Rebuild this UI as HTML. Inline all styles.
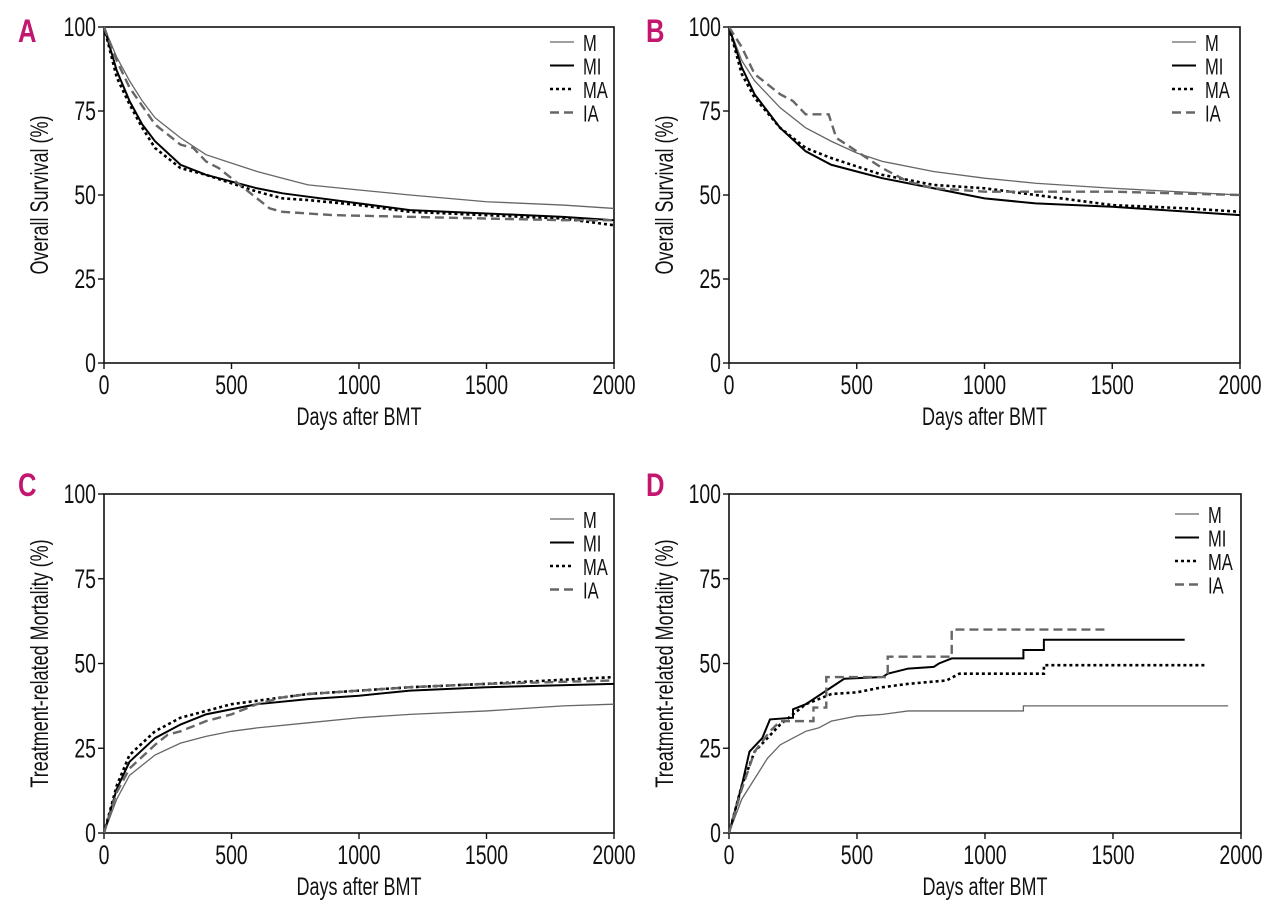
<!DOCTYPE html>
<html><head><meta charset="utf-8"><style>
html,body{margin:0;padding:0;background:#fff;}
svg{display:block;font-family:"Liberation Sans",sans-serif;}
</style></head><body>
<svg id="fig" width="1280" height="922" viewBox="0 0 1280 922" xmlns="http://www.w3.org/2000/svg"></svg>
<script>
const xTicks=[0,500,1000,1500,2000];
const yTicks=[0,25,50,75,100];
const seriesNames=["M","MI","MA","IA"];
// Panel A – overall survival
const aM=[[0,100],[50,91],[100,84],[150,78],[200,73],[300,67],[400,62],[500,59.5],[600,57],[700,55],[800,53],[1000,51.5],[1200,50],[1500,48],[1800,47],[2000,46]];
const aMI=[[0,100],[50,87],[100,78],[150,71],[200,66],[300,59],[400,56],[500,54],[600,52],[700,50.5],[800,49.5],[1000,47.5],[1200,45.5],[1500,44.5],[1800,43.5],[2000,42.5]];
const aMA=[[0,100],[50,85],[100,77],[150,70],[200,64],[300,58],[400,56],[500,53.5],[600,51],[700,49],[800,48.5],[1000,47],[1200,45],[1500,44],[1800,43],[2000,41]];
const aIA=[[0,100],[50,90],[100,82],[200,71],[300,65],[350,64],[400,60],[450,58],[500,55],[550,52],[600,49],[650,46],[700,45],[900,44],[1500,43],[1800,42.5],[2000,42.5]];
// Panel B – overall survival
const bM=[[0,100],[50,90],[100,84],[200,76],[300,70],[400,66],[500,62.5],[600,60],[800,57],[1000,55],[1200,53.5],[1500,52],[2000,50]];
const bMI=[[0,100],[50,88],[100,80],[150,75],[200,70],[300,63],[400,59],[500,57],[600,55],[800,52],[1000,49],[1200,47.5],[1500,46.5],[1800,45],[2000,44]];
const bMA=[[0,100],[50,86],[100,79],[200,70],[300,64],[400,61],[500,58.5],[600,56],[800,53],[1000,52],[1200,50],[1500,47],[1800,46],[2000,45]];
const bIA=[[0,100],[50,94],[100,86],[200,80],[250,78],[300,74],[390,74],[420,67],[500,63],[600,58],[700,54],[800,52],[1000,51],[1500,51],[2000,50]];
// Panel C – TRM
const cM=[[0,0],[50,10],[100,17],[200,23],[300,26.5],[400,28.5],[500,30],[600,31],[800,32.5],[1000,34],[1200,35],[1500,36],[1800,37.5],[2000,38]];
const cMI=[[0,0],[50,13],[100,21],[200,28],[300,32],[400,35],[500,36.5],[600,38],[800,39.5],[1000,40.5],[1200,42],[1500,43],[2000,44]];
const cMA=[[0,0],[50,14],[100,23],[200,30],[300,34],[400,36],[500,38],[600,39],[800,41],[1000,42],[1200,43],[1500,44],[2000,46]];
const cIA=[[0,0],[50,12],[100,19],[200,26],[250,29],[300,30],[400,33],[500,35],[600,38],[700,40],[800,41],[1000,42],[1200,43],[1500,44],[2000,45]];
// Panel D – TRM
const dM=[[0,0],[50,10],[100,16],[150,22],[200,26],[250,28],[300,30],[350,31],[400,33],[500,34.5],[600,35],[700,36],[1150,36],[1150,37.5],[1950,37.5]];
const dMI=[[0,0],[50,14],[80,24],[130,28],[160,33.5],[250,34],[250,36.5],[300,38],[380,42],[450,45.5],[600,46],[620,47],[700,48.5],[800,49],[820,50],[870,51.5],[1150,51.5],[1150,54],[1230,54],[1230,57],[1780,57]];
const dMA=[[0,0],[50,14],[100,24],[200,32],[300,38],[400,41],[500,41.5],[600,43],[700,44],[850,45],[900,47],[1230,47],[1230,49.5],[1860,49.5]];
const dIA=[[0,0],[50,13],[100,24],[160,30],[200,33],[330,33],[330,37],[380,37],[380,46],[620,46],[620,52],[870,52],[870,60],[1470,60]];

const NS="http://www.w3.org/2000/svg";
const svg=document.getElementById('fig');
function mk(tag,attrs,parent){const e=document.createElementNS(NS,tag);for(const k in attrs)e.setAttribute(k,attrs[k]);(parent||svg).appendChild(e);return e;}
function txt(x,y,s,anchor,size,parent,rot){
  const t=mk('text',{transform:`translate(${x},${y})${rot?' rotate(-90)':''} scale(0.72,1)`,'text-anchor':anchor,'font-size':size,fill:'#111'},parent);
  t.textContent=s;return t;
}
const styles={
  M:{stroke:'#666','stroke-width':1.3},
  MI:{stroke:'#000','stroke-width':2},
  MA:{stroke:'#000','stroke-width':2.6,'stroke-dasharray':'3,3'},
  IA:{stroke:'#666','stroke-width':2.4,'stroke-dasharray':'9,5'}
};
const panels=[
 {id:'a',letter:'A',lx:18,ly:42,x0:104,x1:614,y0:363,y1:27,title:'Overall Survival (%)',tx:48,data:[aM,aMI,aMA,aIA],leg:[550,42]},
 {id:'b',letter:'B',lx:646,ly:42,x0:729,x1:1240,y0:363,y1:27,title:'Overall Survival (%)',tx:673,data:[bM,bMI,bMA,bIA],leg:[1172,42]},
 {id:'c',letter:'C',lx:18,ly:496,x0:104,x1:614,y0:833,y1:494,title:'Treatment-related Mortality (%)',tx:48,data:[cM,cMI,cMA,cIA],leg:[550,519]},
 {id:'d',letter:'D',lx:646,ly:496,x0:729,x1:1241,y0:833,y1:494,title:'Treatment-related Mortality (%)',tx:673,data:[dM,dMI,dMA,dIA],leg:[1175,514]}
];
panels.forEach(p=>{
  const g=mk('g',{});
  
  
  const sx=v=>p.x0+(p.x1-p.x0)*v/2000;
  const sy=v=>p.y0-(p.y0-p.y1)*v/100;
  const L=mk('text',{x:p.lx,y:p.ly,'font-size':32,'font-weight':'bold',fill:'#c2166f',transform:`translate(${p.lx},0) scale(0.8,1) translate(${-p.lx},0)`},g);
  L.textContent=p.letter;
  
  
  const fr=mk('rect',{x:p.x0,y:p.y1,width:p.x1-p.x0,height:p.y0-p.y1,fill:'none',stroke:'#111','stroke-width':1.6},g);
  
  
  xTicks.forEach(v=>{
    mk('line',{x1:sx(v),x2:sx(v),y1:p.y0,y2:p.y0+6,stroke:'#111','stroke-width':1.4},g);
    const t=txt(sx(v),p.y0+31,String(v),'middle',27,g);
    
    
  });
  yTicks.forEach(v=>{
    mk('line',{x1:p.x0-6,x2:p.x0,y1:sy(v),y2:sy(v),stroke:'#111','stroke-width':1.4},g);
    const t=txt(p.x0-8,sy(v)+9,String(v),'end',27,g);
    
    
  });
  const xt=txt((p.x0+p.x1)/2,p.y0+62,'Days after BMT','middle',25,g);
  
  
  const yt=txt(p.tx,(p.y0+p.y1)/2,p.title,'middle',25,g,true);
  
  
  p.data.forEach((arr,i)=>{
    const name=seriesNames[i];
    const pl=mk('polyline',Object.assign({points:arr.map(d=>sx(d[0])+','+sy(d[1])).join(' '),fill:'none'},styles[name]),g);
    
    
    const ly=p.leg[1]+i*23.5;
    const ll=mk('line',Object.assign({x1:p.leg[0],x2:p.leg[0]+24,y1:ly,y2:ly},styles[name]),g);
    
    
    const lt=txt(p.leg[0]+33,ly+9,name,'start',23,g);
    
    
  });
});
</script>
</body></html>
